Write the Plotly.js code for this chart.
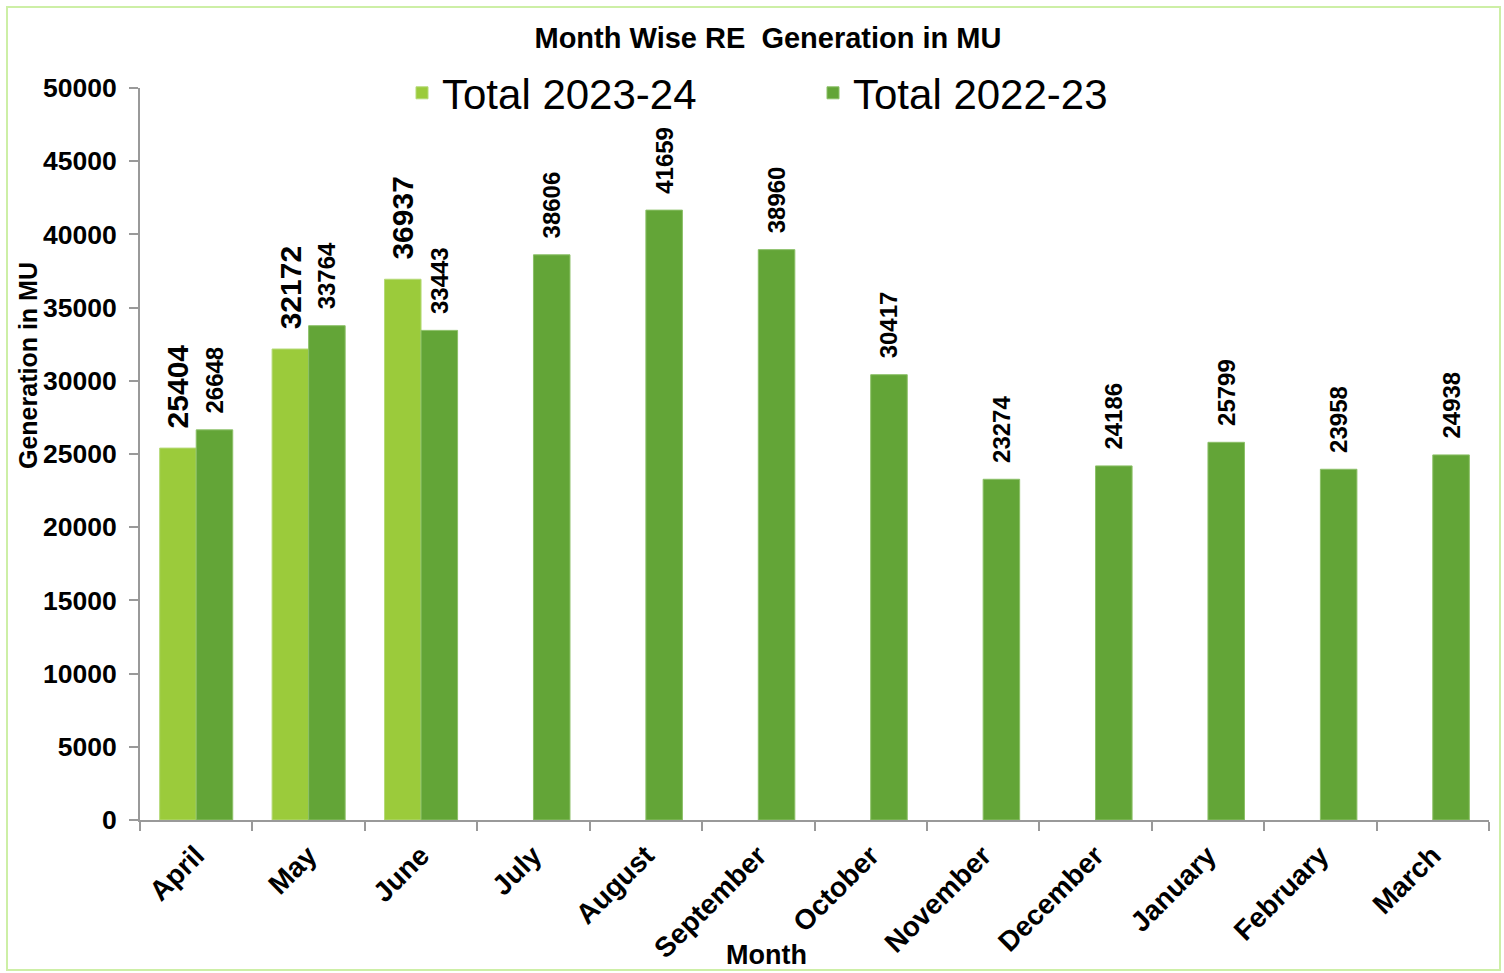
<!DOCTYPE html>
<html><head><meta charset="utf-8">
<script src="https://cdn.plot.ly/plotly-3.0.1.min.js"></script>
<style>html,body{margin:0;padding:0;background:#fff}#chart{width:1504px;height:973px}</style>
</head><body><div id="chart"></div>
<script>
const months = ['April','May','June','July','August','September','October','November','December','January','February','March'];
const total2324 = [25404, 32172, 36937, null, null, null, null, null, null, null, null, null];
const total2223 = [26648, 33764, 33443, 38606, 41659, 38960, 30417, 23274, 24186, 25799, 23958, 24938];
const seriesNames = ['Total 2023-24', 'Total 2022-23'];
const yTicks = [0,5000,10000,15000,20000,25000,30000,35000,40000,45000,50000];

const FONT = '"Liberation Sans", Arial, sans-serif';
const L = 140, R = 15, T = 88, B = 153, W = 1504, H = 973;
const pw = W - L - R, ph = H - T - B;
const px = x => (x - L) / pw;
const py = y => (H - B - y) / ph;

const traces = [
  {type:'bar', name:seriesNames[0], x:months, y:total2324,
   marker:{color:'#9BCB3B', line:{color:'#B5DA78', width:1}},
   text: total2324.map(v => v == null ? '' : '\u00a0\u00a0' + v),
   textposition:'outside', textangle:-90, constraintext:'none', cliponaxis:false,
   textfont:{family:FONT, size:30, color:'#000', weight:'bold'}, hoverinfo:'x+y'},
  {type:'bar', name:seriesNames[1], x:months, y:total2223,
   marker:{color:'#63A537', line:{color:'#8CC068', width:1}},
   text: total2223.map(v => v == null ? '' : '\u00a0\u00a0' + v),
   textposition:'outside', textangle:-90, constraintext:'none', cliponaxis:false,
   textfont:{family:FONT, size:24, color:'#000', weight:'bold'}, hoverinfo:'x+y'}
];

const layout = {
  width:W, height:H,
  margin:{l:L, r:R, t:T, b:B, autoexpand:false},
  paper_bgcolor:'#fff', plot_bgcolor:'#fff',
  font:{family:FONT, color:'#000'},
  barmode:'group', bargap:0.35, bargroupgap:0,
  title:{text:'Month Wise RE\u00a0 Generation in MU', x:768/W, xanchor:'center', y:1-38/H, yanchor:'middle',
         font:{family:FONT, size:29, weight:'bold', color:'#000'}},
  showlegend:true,
  legend:{orientation:'h', x:px(402), xanchor:'left', y:py(93), yanchor:'middle',
          font:{family:FONT, size:42, color:'#000'}, entrywidth:366, entrywidthmode:'pixels',
          bgcolor:'rgba(0,0,0,0)', traceorder:'normal'},
  xaxis:{type:'category', showgrid:false, showline:true, linecolor:'#999', linewidth:2,
         ticks:'outside', tickson:'boundaries', ticklen:9, tickcolor:'#999', tickwidth:2, ticklabelstandoff:6,
         tickangle:-45, tickfont:{family:FONT, size:28, weight:'bold', color:'#000'}, automargin:false},
  yaxis:{range:[0,50000], tickvals:yTicks, tickformat:'d', showgrid:false, zeroline:false, showline:true, linecolor:'#999', linewidth:2,
         ticks:'outside', ticklen:9, tickcolor:'#999', tickwidth:2, ticklabelstandoff:7,
         tickfont:{family:FONT, size:26.5, weight:'bold', color:'#000'}, automargin:false},
  annotations:[
    {text:'Month', xref:'paper', yref:'paper', x:px(766), y:py(955), xanchor:'center', yanchor:'middle',
     showarrow:false, font:{family:FONT, size:27, weight:'bold', color:'#000'}},
    {text:'Generation in MU', xref:'paper', yref:'paper', x:px(28), y:py(366), xanchor:'center', yanchor:'middle',
     textangle:-90, showarrow:false, font:{family:FONT, size:25, weight:'bold', color:'#000'}}
  ],
  shapes:[
    {type:'rect', xref:'paper', yref:'paper', x0:px(7), x1:px(1500), y0:py(970), y1:py(7),
     line:{color:'#CDEFA6', width:2}, fillcolor:'rgba(0,0,0,0)', layer:'below'}
  ]
};
Plotly.newPlot('chart', traces, layout, {displayModeBar:false, staticPlot:true});
</script></body></html>
